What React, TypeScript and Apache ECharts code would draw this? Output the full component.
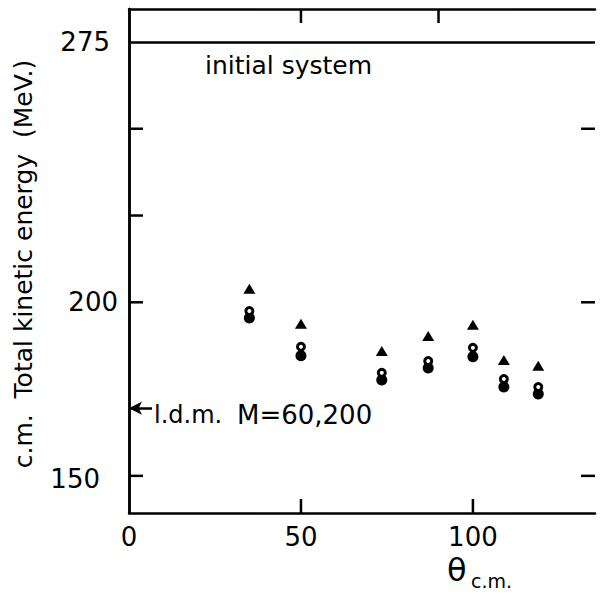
import React, { useEffect, useRef } from "react";
import * as echarts from "echarts";

const angles = [35, 50, 73.5, 87, 100, 109, 119];
const triangleE = [203.9, 193.8, 186.0, 190.3, 193.5, 183.4, 181.7];
const openE = [197.5, 187.2, 179.7, 183.1, 186.9, 177.9, 175.6];
const filledE = [195.5, 184.6, 177.6, 181.1, 184.3, 175.6, 173.6];

const initialE = 275;
const ldmE = 169.5;
const ldmArrowEnd = 6.7;

const xLabels = [0, 50, 100];
const yLabels = [150, 200, 275];
const bottomTicks = [50, 100];
const topTicks = [50, 90];
const leftTicks = [150, 200, 225, 250];
const rightTicks = [150, 200, 250];

const X_MIN = 0;
const X_MAX = 135.5;
const Y_MIN = 139.3;
const Y_MAX = 284.5;

const FONT = "DejaVu Sans";
const INK = "#000";
const TICK_LEN = 14;

export default function App() {
  const ref = useRef<HTMLDivElement>(null);

  useEffect(() => {
    if (!ref.current) return;
    const chart = echarts.init(ref.current, undefined, { renderer: "svg" });

    const axisLine = { show: true, lineStyle: { color: INK, width: 2.5 } };

    const tickLine = (p: number[], dx: number, dy: number) => ({
      type: "line",
      shape: { x1: p[0], y1: p[1], x2: p[0] + dx, y2: p[1] + dy },
      style: { stroke: INK, lineWidth: 2.5 },
    });

    const option: any = {
      animation: false,
      backgroundColor: "#fff",
      grid: { left: 129, right: 7, top: 9, bottom: 82 },
      xAxis: [
        {
          type: "value",
          position: "bottom",
          min: X_MIN,
          max: X_MAX,
          axisLine,
          splitLine: { show: false },
          axisTick: { show: false },
          axisLabel: {
            show: true,
            customValues: xLabels,
            color: INK,
            fontFamily: FONT,
            fontSize: 26,
            margin: 11,
          },
        },
        {
          type: "value",
          position: "top",
          min: X_MIN,
          max: X_MAX,
          axisLine,
          splitLine: { show: false },
          axisTick: { show: false },
          axisLabel: { show: false },
        },
      ],
      yAxis: [
        {
          type: "value",
          position: "left",
          min: Y_MIN,
          max: Y_MAX,
          axisLine,
          splitLine: { show: false },
          axisTick: { show: false },
          axisLabel: {
            show: true,
            customValues: yLabels,
            margin: 11,
            color: INK,
            fontFamily: FONT,
            fontSize: 26,
            formatter: (v: number) =>
              v === 275 ? `{a|${v}}` : v === 150 ? `{c|${v}}` : `{b|${v}}`,
            rich: {
              a: { fontFamily: FONT, fontSize: 26, color: INK, padding: [0, 8, 0, 0] },
              b: { fontFamily: FONT, fontSize: 26, color: INK },
              c: { fontFamily: FONT, fontSize: 26, color: INK, padding: [6, 18, 0, 0] },
            },
          },
        },
        {
          type: "value",
          position: "right",
          min: Y_MIN,
          max: Y_MAX,
          axisLine,
          splitLine: { show: false },
          axisTick: { show: false },
          axisLabel: { show: false },
        },
      ],
      series: [
        {
          name: "frameTicks",
          type: "custom",
          xAxisIndex: 0,
          yAxisIndex: 0,
          silent: true,
          clip: false,
          z: 10,
          data: [[X_MIN, Y_MIN]],
          renderItem: (_params: any, api: any) => {
            const children: any[] = [];
            leftTicks.forEach((v) => children.push(tickLine(api.coord([X_MIN, v]), TICK_LEN, 0)));
            rightTicks.forEach((v) => children.push(tickLine(api.coord([X_MAX, v]), -TICK_LEN, 0)));
            topTicks.forEach((v) => children.push(tickLine(api.coord([v, Y_MAX]), 0, TICK_LEN)));
            bottomTicks.forEach((v) => children.push(tickLine(api.coord([v, Y_MIN]), 0, -TICK_LEN)));
            return { type: "group", children };
          },
        },
        {
          name: "filled",
          type: "scatter",
          xAxisIndex: 0,
          yAxisIndex: 0,
          symbol: "circle",
          symbolSize: 11,
          itemStyle: { color: INK, opacity: 1 },
          data: angles.map((a, i) => [a, filledE[i]]),
          markLine: {
            silent: true,
            animation: false,
            label: { show: false },
            data: [
              [
                { coord: [X_MIN, ldmE], symbol: "arrow", symbolSize: [10, 13] },
                { coord: [ldmArrowEnd, ldmE], symbol: "none" },
              ],
            ],
            lineStyle: { color: INK, width: 2.5, type: "solid", opacity: 1 },
          },
        },
        {
          name: "open",
          type: "scatter",
          xAxisIndex: 0,
          yAxisIndex: 0,
          symbol: "circle",
          symbolSize: 7,
          itemStyle: { color: "#fff", borderColor: INK, borderWidth: 3, opacity: 1 },
          data: angles.map((a, i) => [a, openE[i]]),
        },
        {
          name: "triangle",
          type: "scatter",
          xAxisIndex: 0,
          yAxisIndex: 0,
          symbol: "triangle",
          symbolSize: [12, 10],
          itemStyle: { color: INK, opacity: 1 },
          data: angles.map((a, i) => [a, triangleE[i]]),
          markLine: {
            silent: true,
            animation: false,
            symbol: ["none", "none"],
            label: { show: false },
            lineStyle: { color: INK, width: 2.5, type: "solid", opacity: 1 },
            data: [{ yAxis: initialE }],
          },
        },
      ],
      graphic: [
        {
          type: "text",
          x: 23,
          y: 264,
          rotation: Math.PI / 2,
          style: {
            text: "c.m.  Total kinetic energy  (MeV.)",
            fontFamily: FONT,
            fontSize: 25,
            fill: INK,
            textAlign: "center",
            textVerticalAlign: "middle",
          },
        },
        {
          type: "text",
          x: 205,
          y: 65,
          style: {
            text: "initial system",
            fontFamily: FONT,
            fontSize: 25,
            fill: INK,
            textAlign: "left",
            textVerticalAlign: "middle",
          },
        },
        {
          type: "text",
          x: 154,
          y: 415,
          style: {
            text: "l.d.m.",
            fontFamily: FONT,
            fontSize: 24,
            fill: INK,
            textAlign: "left",
            textVerticalAlign: "middle",
          },
        },
        {
          type: "text",
          x: 237,
          y: 415,
          style: {
            text: "M=60,200",
            fontFamily: FONT,
            fontSize: 26,
            fill: INK,
            textAlign: "left",
            textVerticalAlign: "middle",
          },
        },
        {
          type: "text",
          x: 447,
          y: 570,
          style: {
            text: "θ",
            fontFamily: FONT,
            fontSize: 32,
            fill: INK,
            textAlign: "left",
            textVerticalAlign: "middle",
          },
        },
        {
          type: "text",
          x: 471,
          y: 581,
          style: {
            text: "c.m.",
            fontFamily: FONT,
            fontSize: 19,
            fill: INK,
            textAlign: "left",
            textVerticalAlign: "middle",
          },
        },
      ],
    };

    chart.setOption(option);
    return () => chart.dispose();
  }, []);

  return (
    <div
      ref={ref}
      style={{ position: "absolute", left: 0, top: 0, width: 602, height: 595, background: "#fff" }}
    />
  );
}
